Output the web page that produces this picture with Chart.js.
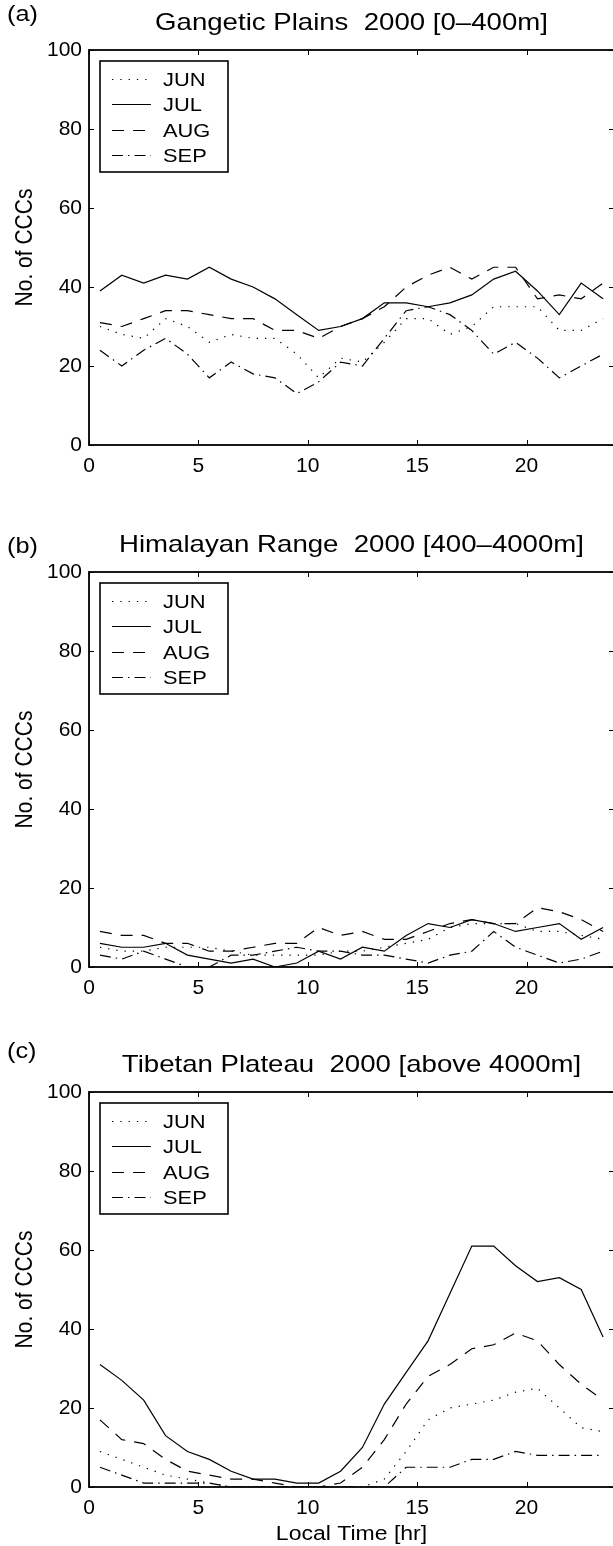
<!DOCTYPE html>
<html><head><meta charset="utf-8">
<script src="https://cdn.jsdelivr.net/npm/chart.js@4/dist/chart.umd.min.js"></script>
<style>
html,body{margin:0;padding:0;background:#fff;overflow:hidden;width:613px;height:1546px;position:relative;}
.panel{position:absolute;left:0;}
canvas{display:block;}
</style></head><body>
<div class="panel" style="top:0px"><canvas id="ca" width="640" height="522"></canvas></div>
<div class="panel" style="top:522px"><canvas id="cb" width="640" height="520"></canvas></div>
<div class="panel" style="top:1042px"><canvas id="cc" width="640" height="504"></canvas></div>
<script>
// ---- data ----
const hours = [0.5,1.5,2.5,3.5,4.5,5.5,6.5,7.5,8.5,9.5,10.5,11.5,12.5,13.5,14.5,15.5,16.5,17.5,18.5,19.5,20.5,21.5,22.5,23.5];
const xTicks = [0,5,10,15,20];
const yTicks = [0,20,40,60,80,100];
const months = ['JUN','JUL','AUG','SEP'];
const panelTitles = ['Gangetic Plains  2000 [0\u2013400m]','Himalayan Range  2000 [400\u20134000m]','Tibetan Plateau  2000 [above 4000m]'];
const panelLabels = ['(a)','(b)','(c)'];
const yAxisTitle = 'No. of CCCs';
const xAxisTitle = 'Local Time [hr]';

const gpJun = [30,28,27,32,30,26,28,27,27,23,17,22,21,26,32,32,28,30,35,35,35,29,29,32];
const gpJul = [39,43,41,43,42,45,42,40,37,33,29,30,32,36,36,35,36,38,42,44,39,33,41,37];
const gpAug = [31,30,32,34,34,33,32,32,29,29,27,30,32,35,40,43,45,42,45,45,37,38,37,41];
const gpSep = [24,20,24,27,23,17,21,18,17,13,16,21,20,27,34,35,33,29,23,26,22,17,20,23];

const hrJun = [5,4,4,5,5,5,4,3,3,3,3,4,4,5,6,7,10,11,11,11,9,9,8,7];
const hrJul = [6,5,5,6,3,2,1,2,0,1,4,2,5,4,8,11,10,12,11,9,10,11,7,10];
const hrAug = [9,8,8,6,6,4,4,5,6,6,10,8,9,7,7,9,11,12,11,11,15,14,12,9];
const hrSep = [3,2,4,2,0,0,3,3,4,5,4,4,3,3,2,1,3,4,9,5,3,1,2,4];

const tpJun = [9,7,5,3,2,1,0,0,0,0,0,0,0,2,9,17,20,21,22,24,25,20,15,14];
const tpJul = [31,27,22,13,9,7,4,2,2,1,1,4,10,21,29,37,49,61,61,56,52,53,50,38];
const tpAug = [17,12,11,7,4,3,2,2,1,0,0,1,5,12,21,28,31,35,36,39,37,31,26,22];
const tpSep = [5,3,1,1,1,1,0,0,0,0,0,0,0,0,5,5,5,7,7,9,8,8,8,8];

// ---- styles ----
const FONT = '"Liberation Sans", Arial, Helvetica, sans-serif';
const dashes = [[1.3,7],[],[12,9],[11,5,1.5,5]];
const K = 1.15; // horizontal text stretch of the original figure

function stretchedText(ctx, text, x, y, size, align) {
  ctx.save();
  ctx.translate(x, y);
  ctx.scale(K, 1);
  ctx.font = size + 'px ' + FONT;
  ctx.textAlign = align;
  ctx.textBaseline = 'middle';
  ctx.fillText(text, 0, 0);
  ctx.restore();
}

const framePlugin = {
  id: 'frame',
  afterDatasetsDraw(chart, args, opts) {
    const ctx = chart.ctx, a = chart.chartArea, x = chart.scales.x, y = chart.scales.y;
    ctx.save();
    ctx.strokeStyle = '#000';
    ctx.fillStyle = '#000';
    const seg = (x1,y1,x2,y2) => { ctx.beginPath(); ctx.moveTo(x1,y1); ctx.lineTo(x2,y2); ctx.stroke(); };
    // ticks (inward)
    ctx.lineWidth = 1;
    const L = 5;
    x.ticks.forEach(t => { const px = Math.round(x.getPixelForValue(t.value)) + 0.5; seg(px, a.bottom, px, a.bottom - L); seg(px, a.top, px, a.top + L); });
    y.ticks.forEach(t => { const py = Math.round(y.getPixelForValue(t.value)) + 0.5; seg(a.left, py, a.left + L, py); seg(a.right, py, a.right - L, py); });
    // box
    ctx.lineWidth = 1.8;
    ctx.strokeRect(a.left, a.top, a.right - a.left, a.bottom - a.top);
    // title and panel label
    stretchedText(ctx, opts.title, (a.left + a.right) / 2, a.top - 27, 24, 'center');
    stretchedText(ctx, opts.label, 7, a.top + opts.labelDy, 22, 'left');
    // y title (rotated)
    ctx.save();
    ctx.translate(25, (a.top + a.bottom) / 2);
    ctx.scale(K, 1);
    ctx.rotate(-Math.PI / 2);
    ctx.textAlign = 'center';
    ctx.textBaseline = 'middle';
    ctx.font = '21px ' + FONT;
    ctx.fillText(yAxisTitle, 0, 0);
    ctx.restore();
    // x title
    if (opts.showX) stretchedText(ctx, xAxisTitle, (a.left + a.right) / 2, a.bottom + 47, 20, 'center');
    // legend
    const bx = a.left + 11, by = a.top + 11, bw = 128, bh = 111;
    ctx.fillStyle = '#fff';
    ctx.fillRect(bx, by, bw, bh);
    ctx.lineWidth = 1.6;
    ctx.strokeRect(bx, by, bw, bh);
    ctx.fillStyle = '#000';
    chart.data.datasets.forEach((ds, i) => {
      const ry = Math.round(by + 17.5 + 25.5 * i) + 0.5;
      ctx.save();
      ctx.lineWidth = 1.2;
      ctx.setLineDash(ds.borderDash || []);
      seg(a.left + 23, ry, a.left + 62, ry);
      ctx.restore();
      stretchedText(ctx, ds.label, a.left + 74, ry + 1, 19, 'left');
    });
    ctx.restore();
  }
};

function makeChart(id, series, idx, height, showX) {
  const datasets = series.map((vals, i) => ({
    label: months[i],
    data: hours.map((h, k) => ({x: h, y: vals[k]})),
    borderColor: '#000',
    borderWidth: 1.2,
    borderDash: dashes[i],
    pointRadius: 0,
    tension: 0,
    fill: false
  }));
  return new Chart(document.getElementById(id), {
    type: 'line',
    data: {datasets},
    plugins: [framePlugin],
    options: {
      responsive: false,
      animation: false,
      devicePixelRatio: 1,
      layout: {padding: {left: 0, right: 26, top: 50, bottom: 0}},
      plugins: {
        legend: {display: false},
        tooltip: {enabled: false},
        frame: {title: panelTitles[idx], label: panelLabels[idx], labelDy: [-35, -25, -40][idx], showX: showX}
      },
      scales: {
        x: {
          type: 'linear', min: 0, max: 24,
          afterBuildTicks: s => { s.ticks = xTicks.map(v => ({value: v})); },
          afterFit: s => { s.height = height - 445; },
          grid: {display: false, drawTicks: false},
          border: {display: false},
          ticks: {color: '#000', font: {family: FONT, size: 21}, padding: 9, maxRotation: 0, autoSkip: false}
        },
        y: {
          type: 'linear', min: 0, max: 100,
          afterBuildTicks: s => { s.ticks = yTicks.map(v => ({value: v})); },
          afterFit: s => { s.width = 89; },
          grid: {display: false, drawTicks: false},
          border: {display: false},
          ticks: {color: '#000', font: {family: FONT, size: 21}, padding: 7}
        }
      }
    }
  });
}

makeChart('ca', [gpJun, gpJul, gpAug, gpSep], 0, 522, false);
makeChart('cb', [hrJun, hrJul, hrAug, hrSep], 1, 520, false);
makeChart('cc', [tpJun, tpJul, tpAug, tpSep], 2, 504, true);
</script>
</body></html>
